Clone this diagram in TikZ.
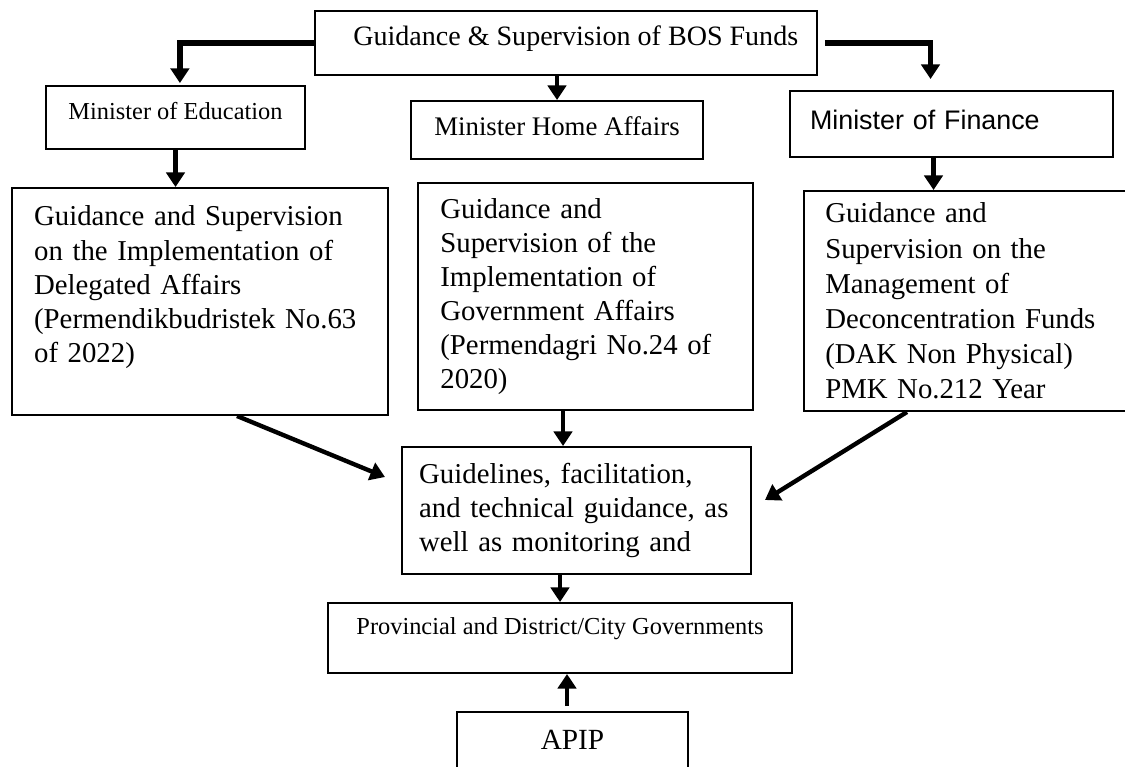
\documentclass[tikz,border=0pt]{standalone}
\usepackage{fontspec}
\setmainfont{Liberation Serif}
\newfontfamily\finfont{Liberation Sans}
\usetikzlibrary{arrows.meta}

\newcommand{\pxu}{0.41pt}

\tikzstyle{boxdecorate} = [draw,line width=0.8pt,rectangle]
\tikzstyle{bigtext} = [font=\fontsize{11.8}{14}\selectfont,align=left,inner xsep=9pt]
\tikzstyle{arrowdecorate} = [-{Triangle[width=7.5pt,length=6pt]},line width=2pt]
\tikzstyle{linkdecorate} = [-{Triangle[width=7.5pt,length=6pt]},line width=2.3pt]
\tikzstyle{diagdecorate} = [-{Triangle[width=7.5pt,length=6pt]},line width=1.8pt]

\begin{document}
\begin{tikzpicture}[x=\pxu,y=-\pxu]
      \useasboundingbox (0,0) rectangle (1125,766);
      %nodes
      \node[boxdecorate, font=\fontsize{11.5}{14}\selectfont, minimum width=502*\pxu, minimum height=64*\pxu,
        text height=8pt, text depth=5.6pt] (gsup) at (566,43) {\hspace*{8pt}Guidance \& Supervision of BOS Funds};
      \node[boxdecorate, font=\fontsize{10}{12}\selectfont, minimum width=259*\pxu, minimum height=63*\pxu,
        text height=7pt, text depth=5pt] (medu) at (175.5,117.5) {Minister of Education};
      \node[boxdecorate, font=\fontsize{11}{13}\selectfont, minimum width=292*\pxu, minimum height=58*\pxu,
        text height=7.6pt, text depth=3.5pt] (mhome) at (557,130) {Minister Home Affairs};
      \node[boxdecorate, font=\finfont\fontsize{11}{13}\selectfont, align=left, text width=116pt, inner xsep=8.2pt,
        minimum width=323*\pxu, minimum height=66*\pxu, text height=8pt, text depth=3.1pt] (mfin) at (951.5,124) {Minister of Finance};

      \node[boxdecorate, bigtext, text width=136pt, minimum width=376*\pxu, minimum height=227*\pxu] (gedu) at (200,301.5)
        {Guidance and Supervision\\ on the Implementation of\\ Delegated Affairs\\ (Permendikbudristek No.63\\ of 2022)\\[-4pt] \strut};
      \node[boxdecorate, bigtext, text width=119pt, minimum width=335*\pxu, minimum height=227*\pxu] (gdag) at (585.5,296.5)
        {Guidance and\\ Supervision of the\\ Implementation of\\ Government Affairs\\ (Permendagri No.24 of\\ 2020)};
      \node[boxdecorate, bigtext, font=\fontsize{11.8}{14.4}\selectfont, text width=115pt, inner xsep=8.7pt,
        minimum width=323*\pxu, minimum height=220*\pxu] (gfin) at (965.5,301)
        {Guidance and\\ Supervision on the\\ Management of\\ Deconcentration Funds\\ (DAK Non Physical)\\ PMK No.212 Year};
      \node[boxdecorate, bigtext, text width=129pt, inner xsep=7pt, minimum width=349*\pxu, minimum height=127*\pxu] (guide) at (576.5,510.5)
        {Guidelines, facilitation,\\ and~technical~guidance,~as\\ well as monitoring and};

      \node[boxdecorate, font=\fontsize{10}{12}\selectfont, minimum width=464*\pxu, minimum height=70*\pxu,
        text height=7pt, text depth=9.5pt] (prov) at (560,638) {Provincial and District/City Governments};
      \node[boxdecorate, font=\fontsize{12}{14}\selectfont, minimum width=231*\pxu, minimum height=56*\pxu] (apip) at (572.5,740) {APIP};

      %edges
      \draw[linkdecorate, shorten >=0.8pt] (gsup.west) -| ([xshift=1.8pt]medu.north);
      \draw[arrowdecorate] (mhome.north |- gsup.south) -- (mhome.north);
      \draw[linkdecorate, shorten >=11*\pxu] ([xshift=7*\pxu]gsup.east) -| ([xshift=-21*\pxu]mfin.north);

      \draw[arrowdecorate] (medu.south) -- (medu.south |- gedu.north);
      \draw[arrowdecorate] ([xshift=-18*\pxu]mfin.south) -- ([xshift=-18*\pxu]mfin.south |- gfin.north);

      \draw[diagdecorate] ([xshift=37*\pxu]gedu.south) -- ([xshift=-16*\pxu,yshift=33.5*\pxu]guide.west);
      \draw[arrowdecorate] ([xshift=-13.5*\pxu]guide.north |- gdag.south) -- ([xshift=-13.5*\pxu]guide.north);
      \draw[diagdecorate] ([xshift=-58.5*\pxu]gfin.south) -- ([xshift=13*\pxu,yshift=10.5*\pxu]guide.east);

      \draw[arrowdecorate] (prov.north |- guide.south) -- (prov.north);
      \draw[arrowdecorate] ([xshift=-5.5*\pxu,yshift=5*\pxu]apip.north) -- ([xshift=-5.5*\pxu]apip.north |- prov.south);
\end{tikzpicture}
\end{document}
